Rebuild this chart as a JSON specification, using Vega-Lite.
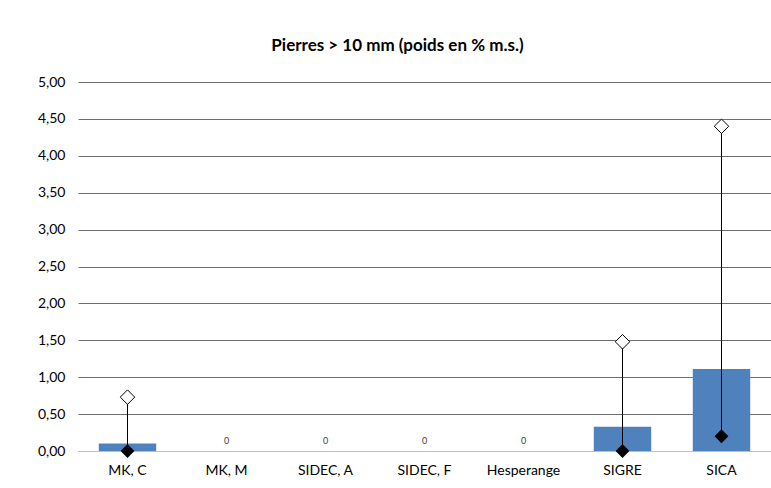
{
  "$schema": "https://vega.github.io/schema/vega-lite/v6.json",
  "width": 693,
  "height": 369,
  "autosize": {"type": "none"},
  "padding": {"left": 78, "top": 82, "right": 0, "bottom": 37},
  "background": "white",
  "title": {
    "text": "Pierres > 10 mm (poids en % m.s.)",
    "font": "Lato",
    "fontSize": 17,
    "fontWeight": "bold",
    "color": "#000000",
    "anchor": "middle",
    "frame": "group",
    "dx": -27,
    "offset": 20
  },
  "data": {
    "values": [
      {"site": "MK, C", "moyenne": 0.1, "min": 0.0, "max": 0.73, "label": ""},
      {"site": "MK, M", "moyenne": 0, "min": null, "max": null, "label": "0"},
      {"site": "SIDEC, A", "moyenne": 0, "min": null, "max": null, "label": "0"},
      {"site": "SIDEC, F", "moyenne": 0, "min": null, "max": null, "label": "0"},
      {"site": "Hesperange", "moyenne": 0, "min": null, "max": null, "label": "0"},
      {"site": "SIGRE", "moyenne": 0.33, "min": 0.0, "max": 1.48, "label": ""},
      {"site": "SICA", "moyenne": 1.11, "min": 0.2, "max": 4.4, "label": ""}
    ]
  },
  "encoding": {
    "x": {
      "field": "site",
      "type": "nominal",
      "sort": null,
      "scale": {"paddingInner": 0.42, "paddingOuter": 0.21},
      "axis": {
        "title": null,
        "labelAngle": 0,
        "labelFont": "Lato",
        "labelFontSize": 14,
        "labelColor": "#000000",
        "labelPadding": 12,
        "labelOverlap": false,
        "ticks": false,
        "domain": true,
        "domainColor": "#bfbfbf",
        "grid": false
      }
    }
  },
  "layer": [
    {
      "mark": {"type": "bar", "color": "#4f81bd"},
      "encoding": {
        "y": {
          "field": "moyenne",
          "type": "quantitative",
          "scale": {"domain": [0, 5], "nice": false},
          "axis": {
            "title": null,
            "values": [0, 0.5, 1, 1.5, 2, 2.5, 3, 3.5, 4, 4.5, 5],
            "labelExpr": "replace(format(datum.value, '.2f'), '.', ',')",
            "labelFont": "Lato",
            "labelFontSize": 14,
            "labelColor": "#000000",
            "labelPadding": 13,
            "labelOverlap": false,
            "ticks": false,
            "domain": false,
            "grid": true,
            "gridColor": "#6e6e6e",
            "gridWidth": 1
          }
        }
      }
    },
    {
      "transform": [{"filter": "datum.max != null"}],
      "mark": {"type": "rule", "color": "#000000", "strokeWidth": 1},
      "encoding": {
        "y": {"field": "min", "type": "quantitative", "title": null,
          "axis": {
            "title": null,
            "values": [0, 0.5, 1, 1.5, 2, 2.5, 3, 3.5, 4, 4.5, 5],
            "labelExpr": "replace(format(datum.value, '.2f'), '.', ',')",
            "labelFont": "Lato",
            "labelFontSize": 14,
            "labelColor": "#000000",
            "labelPadding": 13,
            "labelOverlap": false,
            "ticks": false,
            "domain": false,
            "grid": true,
            "gridColor": "#6e6e6e",
            "gridWidth": 1
          }},
        "y2": {"field": "max"}
      }
    },
    {
      "transform": [{"filter": "datum.max != null"}],
      "mark": {"type": "point", "shape": "diamond", "filled": true, "color": "#000000", "size": 190, "opacity": 1},
      "encoding": {
        "y": {"field": "min", "type": "quantitative", "title": null,
          "axis": {
            "title": null,
            "values": [0, 0.5, 1, 1.5, 2, 2.5, 3, 3.5, 4, 4.5, 5],
            "labelExpr": "replace(format(datum.value, '.2f'), '.', ',')",
            "labelFont": "Lato",
            "labelFontSize": 14,
            "labelColor": "#000000",
            "labelPadding": 13,
            "labelOverlap": false,
            "ticks": false,
            "domain": false,
            "grid": true,
            "gridColor": "#6e6e6e",
            "gridWidth": 1
          }}
      }
    },
    {
      "transform": [{"filter": "datum.max != null"}],
      "mark": {"type": "point", "shape": "diamond", "filled": true, "fill": "#ffffff", "stroke": "#000000", "strokeWidth": 1, "size": 210, "opacity": 1},
      "encoding": {
        "y": {"field": "max", "type": "quantitative", "title": null,
          "axis": {
            "title": null,
            "values": [0, 0.5, 1, 1.5, 2, 2.5, 3, 3.5, 4, 4.5, 5],
            "labelExpr": "replace(format(datum.value, '.2f'), '.', ',')",
            "labelFont": "Lato",
            "labelFontSize": 14,
            "labelColor": "#000000",
            "labelPadding": 13,
            "labelOverlap": false,
            "ticks": false,
            "domain": false,
            "grid": true,
            "gridColor": "#6e6e6e",
            "gridWidth": 1
          }}
      }
    },
    {
      "transform": [{"filter": "datum.label != ''"}],
      "mark": {"type": "text", "font": "Lato", "fontSize": 9, "color": "#404040", "dy": -10},
      "encoding": {
        "y": {"field": "moyenne", "type": "quantitative", "title": null,
          "axis": {
            "title": null,
            "values": [0, 0.5, 1, 1.5, 2, 2.5, 3, 3.5, 4, 4.5, 5],
            "labelExpr": "replace(format(datum.value, '.2f'), '.', ',')",
            "labelFont": "Lato",
            "labelFontSize": 14,
            "labelColor": "#000000",
            "labelPadding": 13,
            "labelOverlap": false,
            "ticks": false,
            "domain": false,
            "grid": true,
            "gridColor": "#6e6e6e",
            "gridWidth": 1
          }},
        "text": {"field": "label"}
      }
    }
  ],
  "config": {
    "view": {"stroke": null}
  }
}
